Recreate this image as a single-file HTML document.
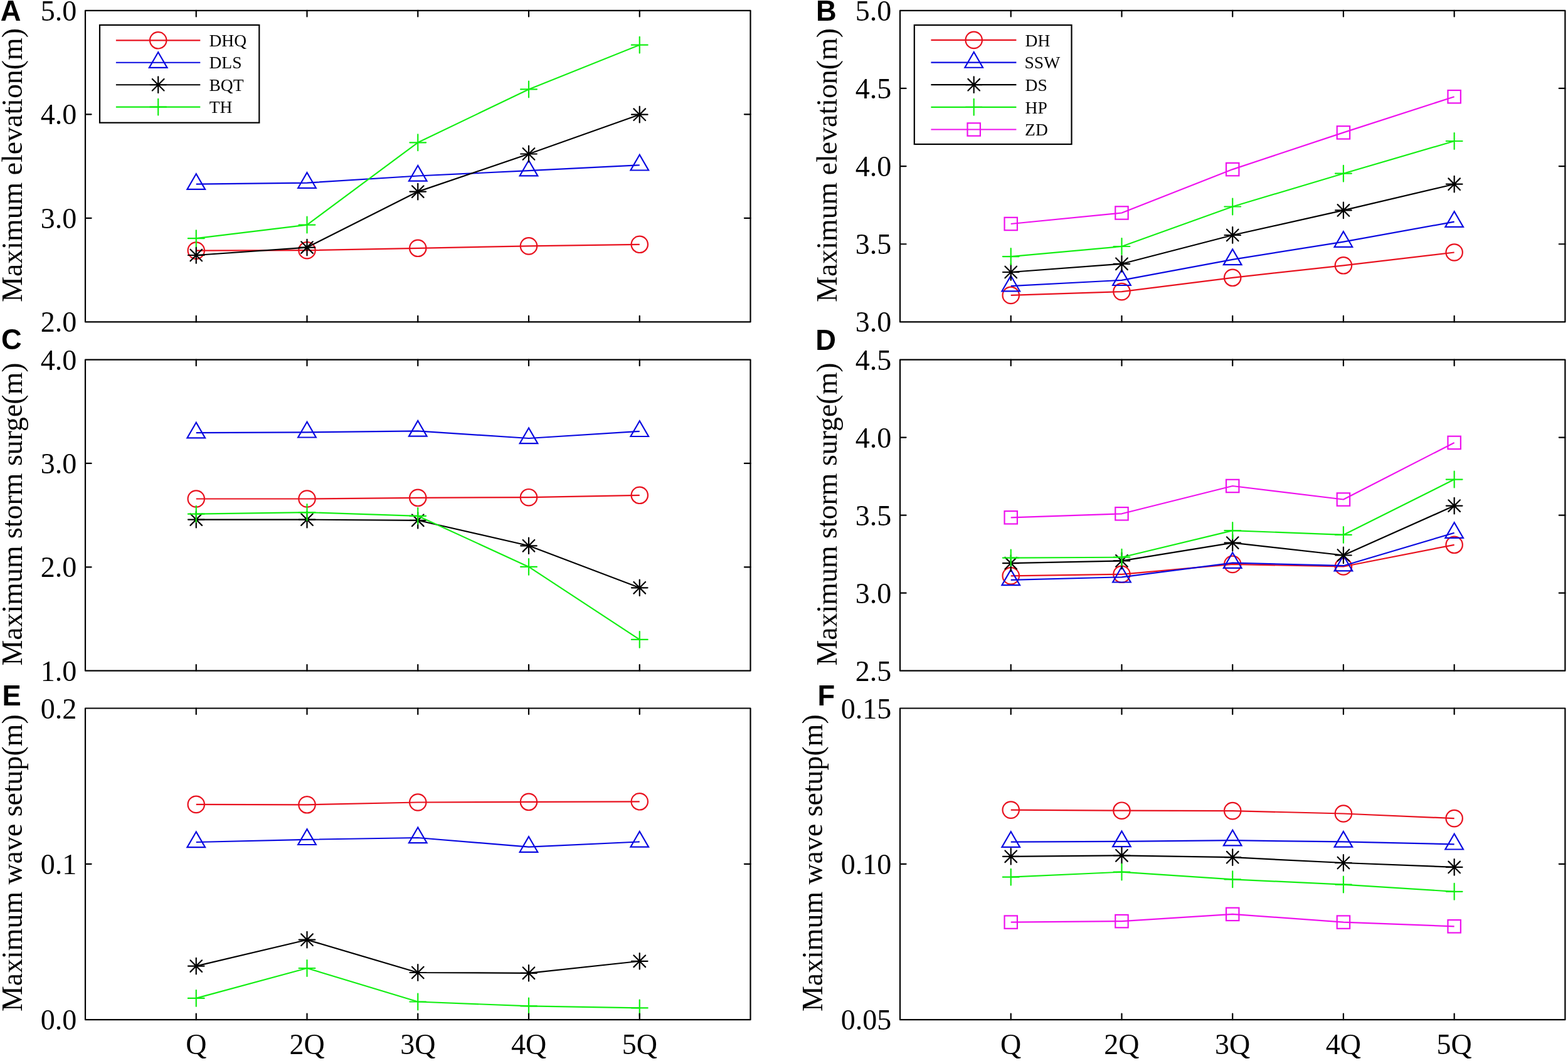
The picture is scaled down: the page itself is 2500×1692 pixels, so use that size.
<!DOCTYPE html>
<html><head><meta charset="utf-8"><title>Figure</title>
<style>html,body{margin:0;padding:0;background:#fff;overflow:hidden;}svg{display:block;}</style></head><body>
<svg width="2500" height="1692" viewBox="0 0 2500 1692">
<rect width="2500" height="1692" fill="#fff"/>
<g><polyline points="312.75,399.6 489.5,399.2 666.25,395.8 843,392.4 1019.75,389.8" fill="none" stroke="#e8111e" stroke-width="2.2" stroke-linejoin="round"/>
<circle cx="312.75" cy="399.6" r="13.2" fill="none" stroke="#e8111e" stroke-width="2.2"/>
<circle cx="489.5" cy="399.2" r="13.2" fill="none" stroke="#e8111e" stroke-width="2.2"/>
<circle cx="666.25" cy="395.8" r="13.2" fill="none" stroke="#e8111e" stroke-width="2.2"/>
<circle cx="843" cy="392.4" r="13.2" fill="none" stroke="#e8111e" stroke-width="2.2"/>
<circle cx="1019.75" cy="389.8" r="13.2" fill="none" stroke="#e8111e" stroke-width="2.2"/>
<polyline points="312.75,293.7 489.5,291.6 666.25,280.5 843,272.2 1019.75,263.3" fill="none" stroke="#0a0ae0" stroke-width="2.2" stroke-linejoin="round"/>
<polygon points="312.75,277.2 298.45,301.9 327.05,301.9" fill="none" stroke="#0a0ae0" stroke-width="2.2" stroke-linejoin="miter"/>
<polygon points="489.5,275.1 475.2,299.8 503.8,299.8" fill="none" stroke="#0a0ae0" stroke-width="2.2" stroke-linejoin="miter"/>
<polygon points="666.25,264 651.95,288.7 680.55,288.7" fill="none" stroke="#0a0ae0" stroke-width="2.2" stroke-linejoin="miter"/>
<polygon points="843,255.7 828.7,280.4 857.3,280.4" fill="none" stroke="#0a0ae0" stroke-width="2.2" stroke-linejoin="miter"/>
<polygon points="1019.75,246.8 1005.45,271.5 1034.05,271.5" fill="none" stroke="#0a0ae0" stroke-width="2.2" stroke-linejoin="miter"/>
<polyline points="312.75,407 489.5,394.6 666.25,305.6 843,245.5 1019.75,182.7" fill="none" stroke="#000000" stroke-width="2.2" stroke-linejoin="round"/>
<path d="M299.95 407H325.55M312.75 394.2V419.8M303.45 397.7L322.05 416.3M303.45 416.3L322.05 397.7" stroke="#000000" stroke-width="2.2" fill="none" stroke-linecap="round"/>
<path d="M476.7 394.6H502.3M489.5 381.8V407.4M480.2 385.3L498.8 403.9M480.2 403.9L498.8 385.3" stroke="#000000" stroke-width="2.2" fill="none" stroke-linecap="round"/>
<path d="M653.45 305.6H679.05M666.25 292.8V318.4M656.95 296.3L675.55 314.9M656.95 314.9L675.55 296.3" stroke="#000000" stroke-width="2.2" fill="none" stroke-linecap="round"/>
<path d="M830.2 245.5H855.8M843 232.7V258.3M833.7 236.2L852.3 254.8M833.7 254.8L852.3 236.2" stroke="#000000" stroke-width="2.2" fill="none" stroke-linecap="round"/>
<path d="M1006.95 182.7H1032.55M1019.75 169.9V195.5M1010.45 173.4L1029.05 192M1010.45 192L1029.05 173.4" stroke="#000000" stroke-width="2.2" fill="none" stroke-linecap="round"/>
<polyline points="312.75,380.2 489.5,358.6 666.25,227.3 843,142.4 1019.75,71.7" fill="none" stroke="#12ee12" stroke-width="2.2" stroke-linejoin="round"/>
<path d="M299.85 380.2H325.65M312.75 367.3V393.1" stroke="#12ee12" stroke-width="2.2" fill="none" stroke-linecap="round"/>
<path d="M476.6 358.6H502.4M489.5 345.7V371.5" stroke="#12ee12" stroke-width="2.2" fill="none" stroke-linecap="round"/>
<path d="M653.35 227.3H679.15M666.25 214.4V240.2" stroke="#12ee12" stroke-width="2.2" fill="none" stroke-linecap="round"/>
<path d="M830.1 142.4H855.9M843 129.5V155.3" stroke="#12ee12" stroke-width="2.2" fill="none" stroke-linecap="round"/>
<path d="M1006.85 71.7H1032.65M1019.75 58.8V84.6" stroke="#12ee12" stroke-width="2.2" fill="none" stroke-linecap="round"/>
<rect x="159" y="39.9" width="254.3" height="155.8" fill="#fff" stroke="#000" stroke-width="2.2"/>
<line x1="184.9" y1="64.3" x2="319.3" y2="64.3" stroke="#e8111e" stroke-width="2.2"/>
<circle cx="252.2" cy="64.3" r="13.2" fill="none" stroke="#e8111e" stroke-width="2.2"/>
<text x="333.51" y="74" font-family="'Liberation Serif','Times New Roman',serif" font-size="27.5">DHQ</text>
<line x1="184.9" y1="99.77" x2="319.3" y2="99.77" stroke="#0a0ae0" stroke-width="2.2"/>
<polygon points="252.2,83.27 237.9,107.97 266.5,107.97" fill="none" stroke="#0a0ae0" stroke-width="2.2" stroke-linejoin="miter"/>
<text x="333.51" y="109.47" font-family="'Liberation Serif','Times New Roman',serif" font-size="27.5">DLS</text>
<line x1="184.9" y1="135.24" x2="319.3" y2="135.24" stroke="#000000" stroke-width="2.2"/>
<path d="M239.4 135.24H265M252.2 122.44V148.04M242.9 125.94L261.5 144.54M242.9 144.54L261.5 125.94" stroke="#000000" stroke-width="2.2" fill="none" stroke-linecap="round"/>
<text x="333.51" y="144.94" font-family="'Liberation Serif','Times New Roman',serif" font-size="27.5">BQT</text>
<line x1="184.9" y1="170.71" x2="319.3" y2="170.71" stroke="#12ee12" stroke-width="2.2"/>
<path d="M239.3 170.71H265.1M252.2 157.81V183.61" stroke="#12ee12" stroke-width="2.2" fill="none" stroke-linecap="round"/>
<text x="333.8" y="180.41" font-family="'Liberation Serif','Times New Roman',serif" font-size="27.5">TH</text>
<path d="M312.75 513.4V503.8M312.75 16.8V26.4M489.5 513.4V503.8M489.5 16.8V26.4M666.25 513.4V503.8M666.25 16.8V26.4M843 513.4V503.8M843 16.8V26.4M1019.75 513.4V503.8M1019.75 16.8V26.4M136 347.87H145.6M1196.5 347.87H1186.9M136 182.33H145.6M1196.5 182.33H1186.9" stroke="#000" stroke-width="2.2" fill="none" stroke-linecap="round"/>
<rect x="136" y="16.8" width="1060.5" height="496.6" fill="none" stroke="#000" stroke-width="2.2" stroke-linejoin="round"/>
<text x="122.3" y="529.4" text-anchor="end" font-family="'Liberation Serif','Times New Roman',serif" font-size="46">2.0</text>
<text x="122.3" y="363.87" text-anchor="end" font-family="'Liberation Serif','Times New Roman',serif" font-size="46">3.0</text>
<text x="122.3" y="198.33" text-anchor="end" font-family="'Liberation Serif','Times New Roman',serif" font-size="46">4.0</text>
<text x="122.3" y="32.8" text-anchor="end" font-family="'Liberation Serif','Times New Roman',serif" font-size="46">5.0</text>
<text transform="translate(34.6 263.4) rotate(-90)" text-anchor="middle" font-family="'Liberation Serif','Times New Roman',serif" font-size="45.85">Maximum elevation(m)</text>
<text x="0.77" y="33.2" font-family="'Liberation Sans',Arial,sans-serif" font-weight="bold" font-size="45.3">A</text></g>
<g><polyline points="1611.73,470.9 1788.47,465.1 1965.2,442.8 2141.93,423.3 2318.67,402.5" fill="none" stroke="#e8111e" stroke-width="2.2" stroke-linejoin="round"/>
<circle cx="1611.73" cy="470.9" r="13.2" fill="none" stroke="#e8111e" stroke-width="2.2"/>
<circle cx="1788.47" cy="465.1" r="13.2" fill="none" stroke="#e8111e" stroke-width="2.2"/>
<circle cx="1965.2" cy="442.8" r="13.2" fill="none" stroke="#e8111e" stroke-width="2.2"/>
<circle cx="2141.93" cy="423.3" r="13.2" fill="none" stroke="#e8111e" stroke-width="2.2"/>
<circle cx="2318.67" cy="402.5" r="13.2" fill="none" stroke="#e8111e" stroke-width="2.2"/>
<polyline points="1611.73,456.1 1788.47,446.8 1965.2,413.9 2141.93,385.6 2318.67,353.7" fill="none" stroke="#0a0ae0" stroke-width="2.2" stroke-linejoin="round"/>
<polygon points="1611.73,439.6 1597.43,464.3 1626.03,464.3" fill="none" stroke="#0a0ae0" stroke-width="2.2" stroke-linejoin="miter"/>
<polygon points="1788.47,430.3 1774.17,455 1802.77,455" fill="none" stroke="#0a0ae0" stroke-width="2.2" stroke-linejoin="miter"/>
<polygon points="1965.2,397.4 1950.9,422.1 1979.5,422.1" fill="none" stroke="#0a0ae0" stroke-width="2.2" stroke-linejoin="miter"/>
<polygon points="2141.93,369.1 2127.63,393.8 2156.23,393.8" fill="none" stroke="#0a0ae0" stroke-width="2.2" stroke-linejoin="miter"/>
<polygon points="2318.67,337.2 2304.37,361.9 2332.97,361.9" fill="none" stroke="#0a0ae0" stroke-width="2.2" stroke-linejoin="miter"/>
<polyline points="1611.73,434 1788.47,420.8 1965.2,375 2141.93,335.4 2318.67,293.7" fill="none" stroke="#000000" stroke-width="2.2" stroke-linejoin="round"/>
<path d="M1598.93 434H1624.53M1611.73 421.2V446.8M1602.43 424.7L1621.03 443.3M1602.43 443.3L1621.03 424.7" stroke="#000000" stroke-width="2.2" fill="none" stroke-linecap="round"/>
<path d="M1775.67 420.8H1801.27M1788.47 408V433.6M1779.17 411.5L1797.77 430.1M1779.17 430.1L1797.77 411.5" stroke="#000000" stroke-width="2.2" fill="none" stroke-linecap="round"/>
<path d="M1952.4 375H1978M1965.2 362.2V387.8M1955.9 365.7L1974.5 384.3M1955.9 384.3L1974.5 365.7" stroke="#000000" stroke-width="2.2" fill="none" stroke-linecap="round"/>
<path d="M2129.13 335.4H2154.73M2141.93 322.6V348.2M2132.63 326.1L2151.23 344.7M2132.63 344.7L2151.23 326.1" stroke="#000000" stroke-width="2.2" fill="none" stroke-linecap="round"/>
<path d="M2305.87 293.7H2331.47M2318.67 280.9V306.5M2309.37 284.4L2327.97 303M2309.37 303L2327.97 284.4" stroke="#000000" stroke-width="2.2" fill="none" stroke-linecap="round"/>
<polyline points="1611.73,409.1 1788.47,393 1965.2,329.5 2141.93,276.7 2318.67,225" fill="none" stroke="#12ee12" stroke-width="2.2" stroke-linejoin="round"/>
<path d="M1598.83 409.1H1624.63M1611.73 396.2V422" stroke="#12ee12" stroke-width="2.2" fill="none" stroke-linecap="round"/>
<path d="M1775.57 393H1801.37M1788.47 380.1V405.9" stroke="#12ee12" stroke-width="2.2" fill="none" stroke-linecap="round"/>
<path d="M1952.3 329.5H1978.1M1965.2 316.6V342.4" stroke="#12ee12" stroke-width="2.2" fill="none" stroke-linecap="round"/>
<path d="M2129.03 276.7H2154.83M2141.93 263.8V289.6" stroke="#12ee12" stroke-width="2.2" fill="none" stroke-linecap="round"/>
<path d="M2305.77 225H2331.57M2318.67 212.1V237.9" stroke="#12ee12" stroke-width="2.2" fill="none" stroke-linecap="round"/>
<polyline points="1611.73,357 1788.47,339.5 1965.2,270.1 2141.93,211.4 2318.67,154.2" fill="none" stroke="#ee11ee" stroke-width="2.2" stroke-linejoin="round"/>
<rect x="1601.53" y="346.8" width="20.4" height="20.4" fill="none" stroke="#ee11ee" stroke-width="2.2"/>
<rect x="1778.27" y="329.3" width="20.4" height="20.4" fill="none" stroke="#ee11ee" stroke-width="2.2"/>
<rect x="1955" y="259.9" width="20.4" height="20.4" fill="none" stroke="#ee11ee" stroke-width="2.2"/>
<rect x="2131.73" y="201.2" width="20.4" height="20.4" fill="none" stroke="#ee11ee" stroke-width="2.2"/>
<rect x="2308.47" y="144" width="20.4" height="20.4" fill="none" stroke="#ee11ee" stroke-width="2.2"/>
<rect x="1457.8" y="40" width="250.7" height="190" fill="#fff" stroke="#000" stroke-width="2.2"/>
<line x1="1484.4" y1="63.9" x2="1620.4" y2="63.9" stroke="#e8111e" stroke-width="2.2"/>
<circle cx="1552.7" cy="63.9" r="13.2" fill="none" stroke="#e8111e" stroke-width="2.2"/>
<text x="1634.61" y="73.6" font-family="'Liberation Serif','Times New Roman',serif" font-size="27.5">DH</text>
<line x1="1484.4" y1="99.55" x2="1620.4" y2="99.55" stroke="#0a0ae0" stroke-width="2.2"/>
<polygon points="1552.7,83.05 1538.4,107.75 1567,107.75" fill="none" stroke="#0a0ae0" stroke-width="2.2" stroke-linejoin="miter"/>
<text x="1633.56" y="109.25" font-family="'Liberation Serif','Times New Roman',serif" font-size="27.5">SSW</text>
<line x1="1484.4" y1="135.2" x2="1620.4" y2="135.2" stroke="#000000" stroke-width="2.2"/>
<path d="M1539.9 135.2H1565.5M1552.7 122.4V148M1543.4 125.9L1562 144.5M1543.4 144.5L1562 125.9" stroke="#000000" stroke-width="2.2" fill="none" stroke-linecap="round"/>
<text x="1634.61" y="144.9" font-family="'Liberation Serif','Times New Roman',serif" font-size="27.5">DS</text>
<line x1="1484.4" y1="170.85" x2="1620.4" y2="170.85" stroke="#12ee12" stroke-width="2.2"/>
<path d="M1539.8 170.85H1565.6M1552.7 157.95V183.75" stroke="#12ee12" stroke-width="2.2" fill="none" stroke-linecap="round"/>
<text x="1634.61" y="180.55" font-family="'Liberation Serif','Times New Roman',serif" font-size="27.5">HP</text>
<line x1="1484.4" y1="206.5" x2="1620.4" y2="206.5" stroke="#ee11ee" stroke-width="2.2"/>
<rect x="1542.5" y="196.3" width="20.4" height="20.4" fill="none" stroke="#ee11ee" stroke-width="2.2"/>
<text x="1634.08" y="216.2" font-family="'Liberation Serif','Times New Roman',serif" font-size="27.5">ZD</text>
<path d="M1611.73 513.4V503.8M1611.73 16.8V26.4M1788.47 513.4V503.8M1788.47 16.8V26.4M1965.2 513.4V503.8M1965.2 16.8V26.4M2141.93 513.4V503.8M2141.93 16.8V26.4M2318.67 513.4V503.8M2318.67 16.8V26.4M1435 389.25H1444.6M2495.4 389.25H2485.8M1435 265.1H1444.6M2495.4 265.1H2485.8M1435 140.95H1444.6M2495.4 140.95H2485.8" stroke="#000" stroke-width="2.2" fill="none" stroke-linecap="round"/>
<rect x="1435" y="16.8" width="1060.4" height="496.6" fill="none" stroke="#000" stroke-width="2.2" stroke-linejoin="round"/>
<text x="1421.3" y="529.4" text-anchor="end" font-family="'Liberation Serif','Times New Roman',serif" font-size="46">3.0</text>
<text x="1421.3" y="405.25" text-anchor="end" font-family="'Liberation Serif','Times New Roman',serif" font-size="46">3.5</text>
<text x="1421.3" y="281.1" text-anchor="end" font-family="'Liberation Serif','Times New Roman',serif" font-size="46">4.0</text>
<text x="1421.3" y="156.95" text-anchor="end" font-family="'Liberation Serif','Times New Roman',serif" font-size="46">4.5</text>
<text x="1421.3" y="32.8" text-anchor="end" font-family="'Liberation Serif','Times New Roman',serif" font-size="46">5.0</text>
<text transform="translate(1333.9 263.4) rotate(-90)" text-anchor="middle" font-family="'Liberation Serif','Times New Roman',serif" font-size="45.85">Maximum elevation(m)</text>
<text x="1300.9" y="33.1" font-family="'Liberation Sans',Arial,sans-serif" font-weight="bold" font-size="45.3">B</text></g>
<g><polyline points="312.75,795.5 489.5,795.5 666.25,793.8 843,793.2 1019.75,789.8" fill="none" stroke="#e8111e" stroke-width="2.2" stroke-linejoin="round"/>
<circle cx="312.75" cy="795.5" r="13.2" fill="none" stroke="#e8111e" stroke-width="2.2"/>
<circle cx="489.5" cy="795.5" r="13.2" fill="none" stroke="#e8111e" stroke-width="2.2"/>
<circle cx="666.25" cy="793.8" r="13.2" fill="none" stroke="#e8111e" stroke-width="2.2"/>
<circle cx="843" cy="793.2" r="13.2" fill="none" stroke="#e8111e" stroke-width="2.2"/>
<circle cx="1019.75" cy="789.8" r="13.2" fill="none" stroke="#e8111e" stroke-width="2.2"/>
<polyline points="312.75,690.2 489.5,689.3 666.25,687.4 843,699 1019.75,687.8" fill="none" stroke="#0a0ae0" stroke-width="2.2" stroke-linejoin="round"/>
<polygon points="312.75,673.7 298.45,698.4 327.05,698.4" fill="none" stroke="#0a0ae0" stroke-width="2.2" stroke-linejoin="miter"/>
<polygon points="489.5,672.8 475.2,697.5 503.8,697.5" fill="none" stroke="#0a0ae0" stroke-width="2.2" stroke-linejoin="miter"/>
<polygon points="666.25,670.9 651.95,695.6 680.55,695.6" fill="none" stroke="#0a0ae0" stroke-width="2.2" stroke-linejoin="miter"/>
<polygon points="843,682.5 828.7,707.2 857.3,707.2" fill="none" stroke="#0a0ae0" stroke-width="2.2" stroke-linejoin="miter"/>
<polygon points="1019.75,671.3 1005.45,696 1034.05,696" fill="none" stroke="#0a0ae0" stroke-width="2.2" stroke-linejoin="miter"/>
<polyline points="312.75,828.6 489.5,828.6 666.25,829.8 843,870.3 1019.75,937.3" fill="none" stroke="#000000" stroke-width="2.2" stroke-linejoin="round"/>
<path d="M299.95 828.6H325.55M312.75 815.8V841.4M303.45 819.3L322.05 837.9M303.45 837.9L322.05 819.3" stroke="#000000" stroke-width="2.2" fill="none" stroke-linecap="round"/>
<path d="M476.7 828.6H502.3M489.5 815.8V841.4M480.2 819.3L498.8 837.9M480.2 837.9L498.8 819.3" stroke="#000000" stroke-width="2.2" fill="none" stroke-linecap="round"/>
<path d="M653.45 829.8H679.05M666.25 817V842.6M656.95 820.5L675.55 839.1M656.95 839.1L675.55 820.5" stroke="#000000" stroke-width="2.2" fill="none" stroke-linecap="round"/>
<path d="M830.2 870.3H855.8M843 857.5V883.1M833.7 861L852.3 879.6M833.7 879.6L852.3 861" stroke="#000000" stroke-width="2.2" fill="none" stroke-linecap="round"/>
<path d="M1006.95 937.3H1032.55M1019.75 924.5V950.1M1010.45 928L1029.05 946.6M1010.45 946.6L1029.05 928" stroke="#000000" stroke-width="2.2" fill="none" stroke-linecap="round"/>
<polyline points="312.75,819.7 489.5,817.1 666.25,822.8 843,903.9 1019.75,1019.9" fill="none" stroke="#12ee12" stroke-width="2.2" stroke-linejoin="round"/>
<path d="M299.85 819.7H325.65M312.75 806.8V832.6" stroke="#12ee12" stroke-width="2.2" fill="none" stroke-linecap="round"/>
<path d="M476.6 817.1H502.4M489.5 804.2V830" stroke="#12ee12" stroke-width="2.2" fill="none" stroke-linecap="round"/>
<path d="M653.35 822.8H679.15M666.25 809.9V835.7" stroke="#12ee12" stroke-width="2.2" fill="none" stroke-linecap="round"/>
<path d="M830.1 903.9H855.9M843 891V916.8" stroke="#12ee12" stroke-width="2.2" fill="none" stroke-linecap="round"/>
<path d="M1006.85 1019.9H1032.65M1019.75 1007V1032.8" stroke="#12ee12" stroke-width="2.2" fill="none" stroke-linecap="round"/>
<path d="M312.75 1069.7V1060.1M312.75 573.6V583.2M489.5 1069.7V1060.1M489.5 573.6V583.2M666.25 1069.7V1060.1M666.25 573.6V583.2M843 1069.7V1060.1M843 573.6V583.2M1019.75 1069.7V1060.1M1019.75 573.6V583.2M136 904.33H145.6M1196.5 904.33H1186.9M136 738.97H145.6M1196.5 738.97H1186.9" stroke="#000" stroke-width="2.2" fill="none" stroke-linecap="round"/>
<rect x="136" y="573.6" width="1060.5" height="496.1" fill="none" stroke="#000" stroke-width="2.2" stroke-linejoin="round"/>
<text x="122.3" y="1085.7" text-anchor="end" font-family="'Liberation Serif','Times New Roman',serif" font-size="46">1.0</text>
<text x="122.3" y="920.33" text-anchor="end" font-family="'Liberation Serif','Times New Roman',serif" font-size="46">2.0</text>
<text x="122.3" y="754.97" text-anchor="end" font-family="'Liberation Serif','Times New Roman',serif" font-size="46">3.0</text>
<text x="122.3" y="589.6" text-anchor="end" font-family="'Liberation Serif','Times New Roman',serif" font-size="46">4.0</text>
<text transform="translate(34.6 819.95) rotate(-90)" text-anchor="middle" font-family="'Liberation Serif','Times New Roman',serif" font-size="45.85">Maximum storm surge(m)</text>
<text x="2.05" y="557.3" font-family="'Liberation Sans',Arial,sans-serif" font-weight="bold" font-size="45.3">C</text></g>
<g><polyline points="1611.73,918.4 1788.47,915.8 1965.2,899.9 2141.93,903.5 2318.67,868.8" fill="none" stroke="#e8111e" stroke-width="2.2" stroke-linejoin="round"/>
<circle cx="1611.73" cy="918.4" r="13.2" fill="none" stroke="#e8111e" stroke-width="2.2"/>
<circle cx="1788.47" cy="915.8" r="13.2" fill="none" stroke="#e8111e" stroke-width="2.2"/>
<circle cx="1965.2" cy="899.9" r="13.2" fill="none" stroke="#e8111e" stroke-width="2.2"/>
<circle cx="2141.93" cy="903.5" r="13.2" fill="none" stroke="#e8111e" stroke-width="2.2"/>
<circle cx="2318.67" cy="868.8" r="13.2" fill="none" stroke="#e8111e" stroke-width="2.2"/>
<polyline points="1611.73,924.9 1788.47,920.3 1965.2,897.6 2141.93,902.2 2318.67,849.7" fill="none" stroke="#0a0ae0" stroke-width="2.2" stroke-linejoin="round"/>
<polygon points="1611.73,908.4 1597.43,933.1 1626.03,933.1" fill="none" stroke="#0a0ae0" stroke-width="2.2" stroke-linejoin="miter"/>
<polygon points="1788.47,903.8 1774.17,928.5 1802.77,928.5" fill="none" stroke="#0a0ae0" stroke-width="2.2" stroke-linejoin="miter"/>
<polygon points="1965.2,881.1 1950.9,905.8 1979.5,905.8" fill="none" stroke="#0a0ae0" stroke-width="2.2" stroke-linejoin="miter"/>
<polygon points="2141.93,885.7 2127.63,910.4 2156.23,910.4" fill="none" stroke="#0a0ae0" stroke-width="2.2" stroke-linejoin="miter"/>
<polygon points="2318.67,833.2 2304.37,857.9 2332.97,857.9" fill="none" stroke="#0a0ae0" stroke-width="2.2" stroke-linejoin="miter"/>
<polyline points="1611.73,898.2 1788.47,894.4 1965.2,865.6 2141.93,885.5 2318.67,806.6" fill="none" stroke="#000000" stroke-width="2.2" stroke-linejoin="round"/>
<path d="M1598.93 898.2H1624.53M1611.73 885.4V911M1602.43 888.9L1621.03 907.5M1602.43 907.5L1621.03 888.9" stroke="#000000" stroke-width="2.2" fill="none" stroke-linecap="round"/>
<path d="M1775.67 894.4H1801.27M1788.47 881.6V907.2M1779.17 885.1L1797.77 903.7M1779.17 903.7L1797.77 885.1" stroke="#000000" stroke-width="2.2" fill="none" stroke-linecap="round"/>
<path d="M1952.4 865.6H1978M1965.2 852.8V878.4M1955.9 856.3L1974.5 874.9M1955.9 874.9L1974.5 856.3" stroke="#000000" stroke-width="2.2" fill="none" stroke-linecap="round"/>
<path d="M2129.13 885.5H2154.73M2141.93 872.7V898.3M2132.63 876.2L2151.23 894.8M2132.63 894.8L2151.23 876.2" stroke="#000000" stroke-width="2.2" fill="none" stroke-linecap="round"/>
<path d="M2305.87 806.6H2331.47M2318.67 793.8V819.4M2309.37 797.3L2327.97 815.9M2309.37 815.9L2327.97 797.3" stroke="#000000" stroke-width="2.2" fill="none" stroke-linecap="round"/>
<polyline points="1611.73,889.6 1788.47,888.7 1965.2,846.1 2141.93,852.9 2318.67,764.6" fill="none" stroke="#12ee12" stroke-width="2.2" stroke-linejoin="round"/>
<path d="M1598.83 889.6H1624.63M1611.73 876.7V902.5" stroke="#12ee12" stroke-width="2.2" fill="none" stroke-linecap="round"/>
<path d="M1775.57 888.7H1801.37M1788.47 875.8V901.6" stroke="#12ee12" stroke-width="2.2" fill="none" stroke-linecap="round"/>
<path d="M1952.3 846.1H1978.1M1965.2 833.2V859" stroke="#12ee12" stroke-width="2.2" fill="none" stroke-linecap="round"/>
<path d="M2129.03 852.9H2154.83M2141.93 840V865.8" stroke="#12ee12" stroke-width="2.2" fill="none" stroke-linecap="round"/>
<path d="M2305.77 764.6H2331.57M2318.67 751.7V777.5" stroke="#12ee12" stroke-width="2.2" fill="none" stroke-linecap="round"/>
<polyline points="1611.73,825.3 1788.47,819.3 1965.2,775 2141.93,796.5 2318.67,705.9" fill="none" stroke="#ee11ee" stroke-width="2.2" stroke-linejoin="round"/>
<rect x="1601.53" y="815.1" width="20.4" height="20.4" fill="none" stroke="#ee11ee" stroke-width="2.2"/>
<rect x="1778.27" y="809.1" width="20.4" height="20.4" fill="none" stroke="#ee11ee" stroke-width="2.2"/>
<rect x="1955" y="764.8" width="20.4" height="20.4" fill="none" stroke="#ee11ee" stroke-width="2.2"/>
<rect x="2131.73" y="786.3" width="20.4" height="20.4" fill="none" stroke="#ee11ee" stroke-width="2.2"/>
<rect x="2308.47" y="695.7" width="20.4" height="20.4" fill="none" stroke="#ee11ee" stroke-width="2.2"/>
<path d="M1611.73 1069.7V1060.1M1611.73 573.6V583.2M1788.47 1069.7V1060.1M1788.47 573.6V583.2M1965.2 1069.7V1060.1M1965.2 573.6V583.2M2141.93 1069.7V1060.1M2141.93 573.6V583.2M2318.67 1069.7V1060.1M2318.67 573.6V583.2M1435 945.68H1444.6M2495.4 945.68H2485.8M1435 821.65H1444.6M2495.4 821.65H2485.8M1435 697.62H1444.6M2495.4 697.62H2485.8" stroke="#000" stroke-width="2.2" fill="none" stroke-linecap="round"/>
<rect x="1435" y="573.6" width="1060.4" height="496.1" fill="none" stroke="#000" stroke-width="2.2" stroke-linejoin="round"/>
<text x="1421.3" y="1085.7" text-anchor="end" font-family="'Liberation Serif','Times New Roman',serif" font-size="46">2.5</text>
<text x="1421.3" y="961.68" text-anchor="end" font-family="'Liberation Serif','Times New Roman',serif" font-size="46">3.0</text>
<text x="1421.3" y="837.65" text-anchor="end" font-family="'Liberation Serif','Times New Roman',serif" font-size="46">3.5</text>
<text x="1421.3" y="713.62" text-anchor="end" font-family="'Liberation Serif','Times New Roman',serif" font-size="46">4.0</text>
<text x="1421.3" y="589.6" text-anchor="end" font-family="'Liberation Serif','Times New Roman',serif" font-size="46">4.5</text>
<text transform="translate(1333.9 819.95) rotate(-90)" text-anchor="middle" font-family="'Liberation Serif','Times New Roman',serif" font-size="45.85">Maximum storm surge(m)</text>
<text x="1300.2" y="557.8" font-family="'Liberation Sans',Arial,sans-serif" font-weight="bold" font-size="45.3">D</text></g>
<g><polyline points="312.75,1282.9 489.5,1283.3 666.25,1279.5 843,1278.8 1019.75,1278.3" fill="none" stroke="#e8111e" stroke-width="2.2" stroke-linejoin="round"/>
<circle cx="312.75" cy="1282.9" r="13.2" fill="none" stroke="#e8111e" stroke-width="2.2"/>
<circle cx="489.5" cy="1283.3" r="13.2" fill="none" stroke="#e8111e" stroke-width="2.2"/>
<circle cx="666.25" cy="1279.5" r="13.2" fill="none" stroke="#e8111e" stroke-width="2.2"/>
<circle cx="843" cy="1278.8" r="13.2" fill="none" stroke="#e8111e" stroke-width="2.2"/>
<circle cx="1019.75" cy="1278.3" r="13.2" fill="none" stroke="#e8111e" stroke-width="2.2"/>
<polyline points="312.75,1343 489.5,1338.8 666.25,1336 843,1350.6 1019.75,1342.4" fill="none" stroke="#0a0ae0" stroke-width="2.2" stroke-linejoin="round"/>
<polygon points="312.75,1326.5 298.45,1351.2 327.05,1351.2" fill="none" stroke="#0a0ae0" stroke-width="2.2" stroke-linejoin="miter"/>
<polygon points="489.5,1322.3 475.2,1347 503.8,1347" fill="none" stroke="#0a0ae0" stroke-width="2.2" stroke-linejoin="miter"/>
<polygon points="666.25,1319.5 651.95,1344.2 680.55,1344.2" fill="none" stroke="#0a0ae0" stroke-width="2.2" stroke-linejoin="miter"/>
<polygon points="843,1334.1 828.7,1358.8 857.3,1358.8" fill="none" stroke="#0a0ae0" stroke-width="2.2" stroke-linejoin="miter"/>
<polygon points="1019.75,1325.9 1005.45,1350.6 1034.05,1350.6" fill="none" stroke="#0a0ae0" stroke-width="2.2" stroke-linejoin="miter"/>
<polyline points="312.75,1540.6 489.5,1498.7 666.25,1551 843,1551.8 1019.75,1532.8" fill="none" stroke="#000000" stroke-width="2.2" stroke-linejoin="round"/>
<path d="M299.95 1540.6H325.55M312.75 1527.8V1553.4M303.45 1531.3L322.05 1549.9M303.45 1549.9L322.05 1531.3" stroke="#000000" stroke-width="2.2" fill="none" stroke-linecap="round"/>
<path d="M476.7 1498.7H502.3M489.5 1485.9V1511.5M480.2 1489.4L498.8 1508M480.2 1508L498.8 1489.4" stroke="#000000" stroke-width="2.2" fill="none" stroke-linecap="round"/>
<path d="M653.45 1551H679.05M666.25 1538.2V1563.8M656.95 1541.7L675.55 1560.3M656.95 1560.3L675.55 1541.7" stroke="#000000" stroke-width="2.2" fill="none" stroke-linecap="round"/>
<path d="M830.2 1551.8H855.8M843 1539V1564.6M833.7 1542.5L852.3 1561.1M833.7 1561.1L852.3 1542.5" stroke="#000000" stroke-width="2.2" fill="none" stroke-linecap="round"/>
<path d="M1006.95 1532.8H1032.55M1019.75 1520V1545.6M1010.45 1523.5L1029.05 1542.1M1010.45 1542.1L1029.05 1523.5" stroke="#000000" stroke-width="2.2" fill="none" stroke-linecap="round"/>
<polyline points="312.75,1591.9 489.5,1544 666.25,1597.5 843,1604.4 1019.75,1607.4" fill="none" stroke="#12ee12" stroke-width="2.2" stroke-linejoin="round"/>
<path d="M299.85 1591.9H325.65M312.75 1579V1604.8" stroke="#12ee12" stroke-width="2.2" fill="none" stroke-linecap="round"/>
<path d="M476.6 1544H502.4M489.5 1531.1V1556.9" stroke="#12ee12" stroke-width="2.2" fill="none" stroke-linecap="round"/>
<path d="M653.35 1597.5H679.15M666.25 1584.6V1610.4" stroke="#12ee12" stroke-width="2.2" fill="none" stroke-linecap="round"/>
<path d="M830.1 1604.4H855.9M843 1591.5V1617.3" stroke="#12ee12" stroke-width="2.2" fill="none" stroke-linecap="round"/>
<path d="M1006.85 1607.4H1032.65M1019.75 1594.5V1620.3" stroke="#12ee12" stroke-width="2.2" fill="none" stroke-linecap="round"/>
<path d="M312.75 1626.2V1616.6M312.75 1129.5V1139.1M489.5 1626.2V1616.6M489.5 1129.5V1139.1M666.25 1626.2V1616.6M666.25 1129.5V1139.1M843 1626.2V1616.6M843 1129.5V1139.1M1019.75 1626.2V1616.6M1019.75 1129.5V1139.1M136 1377.85H145.6M1196.5 1377.85H1186.9" stroke="#000" stroke-width="2.2" fill="none" stroke-linecap="round"/>
<rect x="136" y="1129.5" width="1060.5" height="496.7" fill="none" stroke="#000" stroke-width="2.2" stroke-linejoin="round"/>
<text x="122.3" y="1642.2" text-anchor="end" font-family="'Liberation Serif','Times New Roman',serif" font-size="46">0.0</text>
<text x="122.3" y="1393.85" text-anchor="end" font-family="'Liberation Serif','Times New Roman',serif" font-size="46">0.1</text>
<text x="122.3" y="1145.5" text-anchor="end" font-family="'Liberation Serif','Times New Roman',serif" font-size="46">0.2</text>
<text x="312.75" y="1680.5" text-anchor="middle" font-family="'Liberation Serif','Times New Roman',serif" font-size="46">Q</text>
<text x="489.5" y="1680.5" text-anchor="middle" font-family="'Liberation Serif','Times New Roman',serif" font-size="46">2Q</text>
<text x="666.25" y="1680.5" text-anchor="middle" font-family="'Liberation Serif','Times New Roman',serif" font-size="46">3Q</text>
<text x="843" y="1680.5" text-anchor="middle" font-family="'Liberation Serif','Times New Roman',serif" font-size="46">4Q</text>
<text x="1019.75" y="1680.5" text-anchor="middle" font-family="'Liberation Serif','Times New Roman',serif" font-size="46">5Q</text>
<text transform="translate(34.6 1376.15) rotate(-90)" text-anchor="middle" font-family="'Liberation Serif','Times New Roman',serif" font-size="45.85">Maximum wave setup(m)</text>
<text x="3.5" y="1125.2" font-family="'Liberation Sans',Arial,sans-serif" font-weight="bold" font-size="45.3">E</text></g>
<g><polyline points="1611.73,1291.6 1788.47,1292.7 1965.2,1293.1 2141.93,1297.5 2318.67,1305.1" fill="none" stroke="#e8111e" stroke-width="2.2" stroke-linejoin="round"/>
<circle cx="1611.73" cy="1291.6" r="13.2" fill="none" stroke="#e8111e" stroke-width="2.2"/>
<circle cx="1788.47" cy="1292.7" r="13.2" fill="none" stroke="#e8111e" stroke-width="2.2"/>
<circle cx="1965.2" cy="1293.1" r="13.2" fill="none" stroke="#e8111e" stroke-width="2.2"/>
<circle cx="2141.93" cy="1297.5" r="13.2" fill="none" stroke="#e8111e" stroke-width="2.2"/>
<circle cx="2318.67" cy="1305.1" r="13.2" fill="none" stroke="#e8111e" stroke-width="2.2"/>
<polyline points="1611.73,1342.7 1788.47,1341.9 1965.2,1340.2 2141.93,1342.4 2318.67,1346.3" fill="none" stroke="#0a0ae0" stroke-width="2.2" stroke-linejoin="round"/>
<polygon points="1611.73,1326.2 1597.43,1350.9 1626.03,1350.9" fill="none" stroke="#0a0ae0" stroke-width="2.2" stroke-linejoin="miter"/>
<polygon points="1788.47,1325.4 1774.17,1350.1 1802.77,1350.1" fill="none" stroke="#0a0ae0" stroke-width="2.2" stroke-linejoin="miter"/>
<polygon points="1965.2,1323.7 1950.9,1348.4 1979.5,1348.4" fill="none" stroke="#0a0ae0" stroke-width="2.2" stroke-linejoin="miter"/>
<polygon points="2141.93,1325.9 2127.63,1350.6 2156.23,1350.6" fill="none" stroke="#0a0ae0" stroke-width="2.2" stroke-linejoin="miter"/>
<polygon points="2318.67,1329.8 2304.37,1354.5 2332.97,1354.5" fill="none" stroke="#0a0ae0" stroke-width="2.2" stroke-linejoin="miter"/>
<polyline points="1611.73,1365.8 1788.47,1364.3 1965.2,1367.2 2141.93,1376 2318.67,1382.9" fill="none" stroke="#000000" stroke-width="2.2" stroke-linejoin="round"/>
<path d="M1598.93 1365.8H1624.53M1611.73 1353V1378.6M1602.43 1356.5L1621.03 1375.1M1602.43 1375.1L1621.03 1356.5" stroke="#000000" stroke-width="2.2" fill="none" stroke-linecap="round"/>
<path d="M1775.67 1364.3H1801.27M1788.47 1351.5V1377.1M1779.17 1355L1797.77 1373.6M1779.17 1373.6L1797.77 1355" stroke="#000000" stroke-width="2.2" fill="none" stroke-linecap="round"/>
<path d="M1952.4 1367.2H1978M1965.2 1354.4V1380M1955.9 1357.9L1974.5 1376.5M1955.9 1376.5L1974.5 1357.9" stroke="#000000" stroke-width="2.2" fill="none" stroke-linecap="round"/>
<path d="M2129.13 1376H2154.73M2141.93 1363.2V1388.8M2132.63 1366.7L2151.23 1385.3M2132.63 1385.3L2151.23 1366.7" stroke="#000000" stroke-width="2.2" fill="none" stroke-linecap="round"/>
<path d="M2305.87 1382.9H2331.47M2318.67 1370.1V1395.7M2309.37 1373.6L2327.97 1392.2M2309.37 1392.2L2327.97 1373.6" stroke="#000000" stroke-width="2.2" fill="none" stroke-linecap="round"/>
<polyline points="1611.73,1398.7 1788.47,1390.6 1965.2,1402.3 2141.93,1410.6 2318.67,1421.8" fill="none" stroke="#12ee12" stroke-width="2.2" stroke-linejoin="round"/>
<path d="M1598.83 1398.7H1624.63M1611.73 1385.8V1411.6" stroke="#12ee12" stroke-width="2.2" fill="none" stroke-linecap="round"/>
<path d="M1775.57 1390.6H1801.37M1788.47 1377.7V1403.5" stroke="#12ee12" stroke-width="2.2" fill="none" stroke-linecap="round"/>
<path d="M1952.3 1402.3H1978.1M1965.2 1389.4V1415.2" stroke="#12ee12" stroke-width="2.2" fill="none" stroke-linecap="round"/>
<path d="M2129.03 1410.6H2154.83M2141.93 1397.7V1423.5" stroke="#12ee12" stroke-width="2.2" fill="none" stroke-linecap="round"/>
<path d="M2305.77 1421.8H2331.57M2318.67 1408.9V1434.7" stroke="#12ee12" stroke-width="2.2" fill="none" stroke-linecap="round"/>
<polyline points="1611.73,1470.6 1788.47,1469.1 1965.2,1457.9 2141.93,1470.6 2318.67,1477.3" fill="none" stroke="#ee11ee" stroke-width="2.2" stroke-linejoin="round"/>
<rect x="1601.53" y="1460.4" width="20.4" height="20.4" fill="none" stroke="#ee11ee" stroke-width="2.2"/>
<rect x="1778.27" y="1458.9" width="20.4" height="20.4" fill="none" stroke="#ee11ee" stroke-width="2.2"/>
<rect x="1955" y="1447.7" width="20.4" height="20.4" fill="none" stroke="#ee11ee" stroke-width="2.2"/>
<rect x="2131.73" y="1460.4" width="20.4" height="20.4" fill="none" stroke="#ee11ee" stroke-width="2.2"/>
<rect x="2308.47" y="1467.1" width="20.4" height="20.4" fill="none" stroke="#ee11ee" stroke-width="2.2"/>
<path d="M1611.73 1626.2V1616.6M1611.73 1129.5V1139.1M1788.47 1626.2V1616.6M1788.47 1129.5V1139.1M1965.2 1626.2V1616.6M1965.2 1129.5V1139.1M2141.93 1626.2V1616.6M2141.93 1129.5V1139.1M2318.67 1626.2V1616.6M2318.67 1129.5V1139.1M1435 1377.85H1444.6M2495.4 1377.85H2485.8" stroke="#000" stroke-width="2.2" fill="none" stroke-linecap="round"/>
<rect x="1435" y="1129.5" width="1060.4" height="496.7" fill="none" stroke="#000" stroke-width="2.2" stroke-linejoin="round"/>
<text x="1421.3" y="1642.2" text-anchor="end" font-family="'Liberation Serif','Times New Roman',serif" font-size="46">0.05</text>
<text x="1421.3" y="1393.85" text-anchor="end" font-family="'Liberation Serif','Times New Roman',serif" font-size="46">0.10</text>
<text x="1421.3" y="1145.5" text-anchor="end" font-family="'Liberation Serif','Times New Roman',serif" font-size="46">0.15</text>
<text x="1611.73" y="1680.5" text-anchor="middle" font-family="'Liberation Serif','Times New Roman',serif" font-size="46">Q</text>
<text x="1788.47" y="1680.5" text-anchor="middle" font-family="'Liberation Serif','Times New Roman',serif" font-size="46">2Q</text>
<text x="1965.2" y="1680.5" text-anchor="middle" font-family="'Liberation Serif','Times New Roman',serif" font-size="46">3Q</text>
<text x="2141.93" y="1680.5" text-anchor="middle" font-family="'Liberation Serif','Times New Roman',serif" font-size="46">4Q</text>
<text x="2318.67" y="1680.5" text-anchor="middle" font-family="'Liberation Serif','Times New Roman',serif" font-size="46">5Q</text>
<text transform="translate(1310.9 1376.15) rotate(-90)" text-anchor="middle" font-family="'Liberation Serif','Times New Roman',serif" font-size="45.85">Maximum wave setup(m)</text>
<text x="1303.5" y="1125.2" font-family="'Liberation Sans',Arial,sans-serif" font-weight="bold" font-size="45.3">F</text></g>
</svg></body></html>
